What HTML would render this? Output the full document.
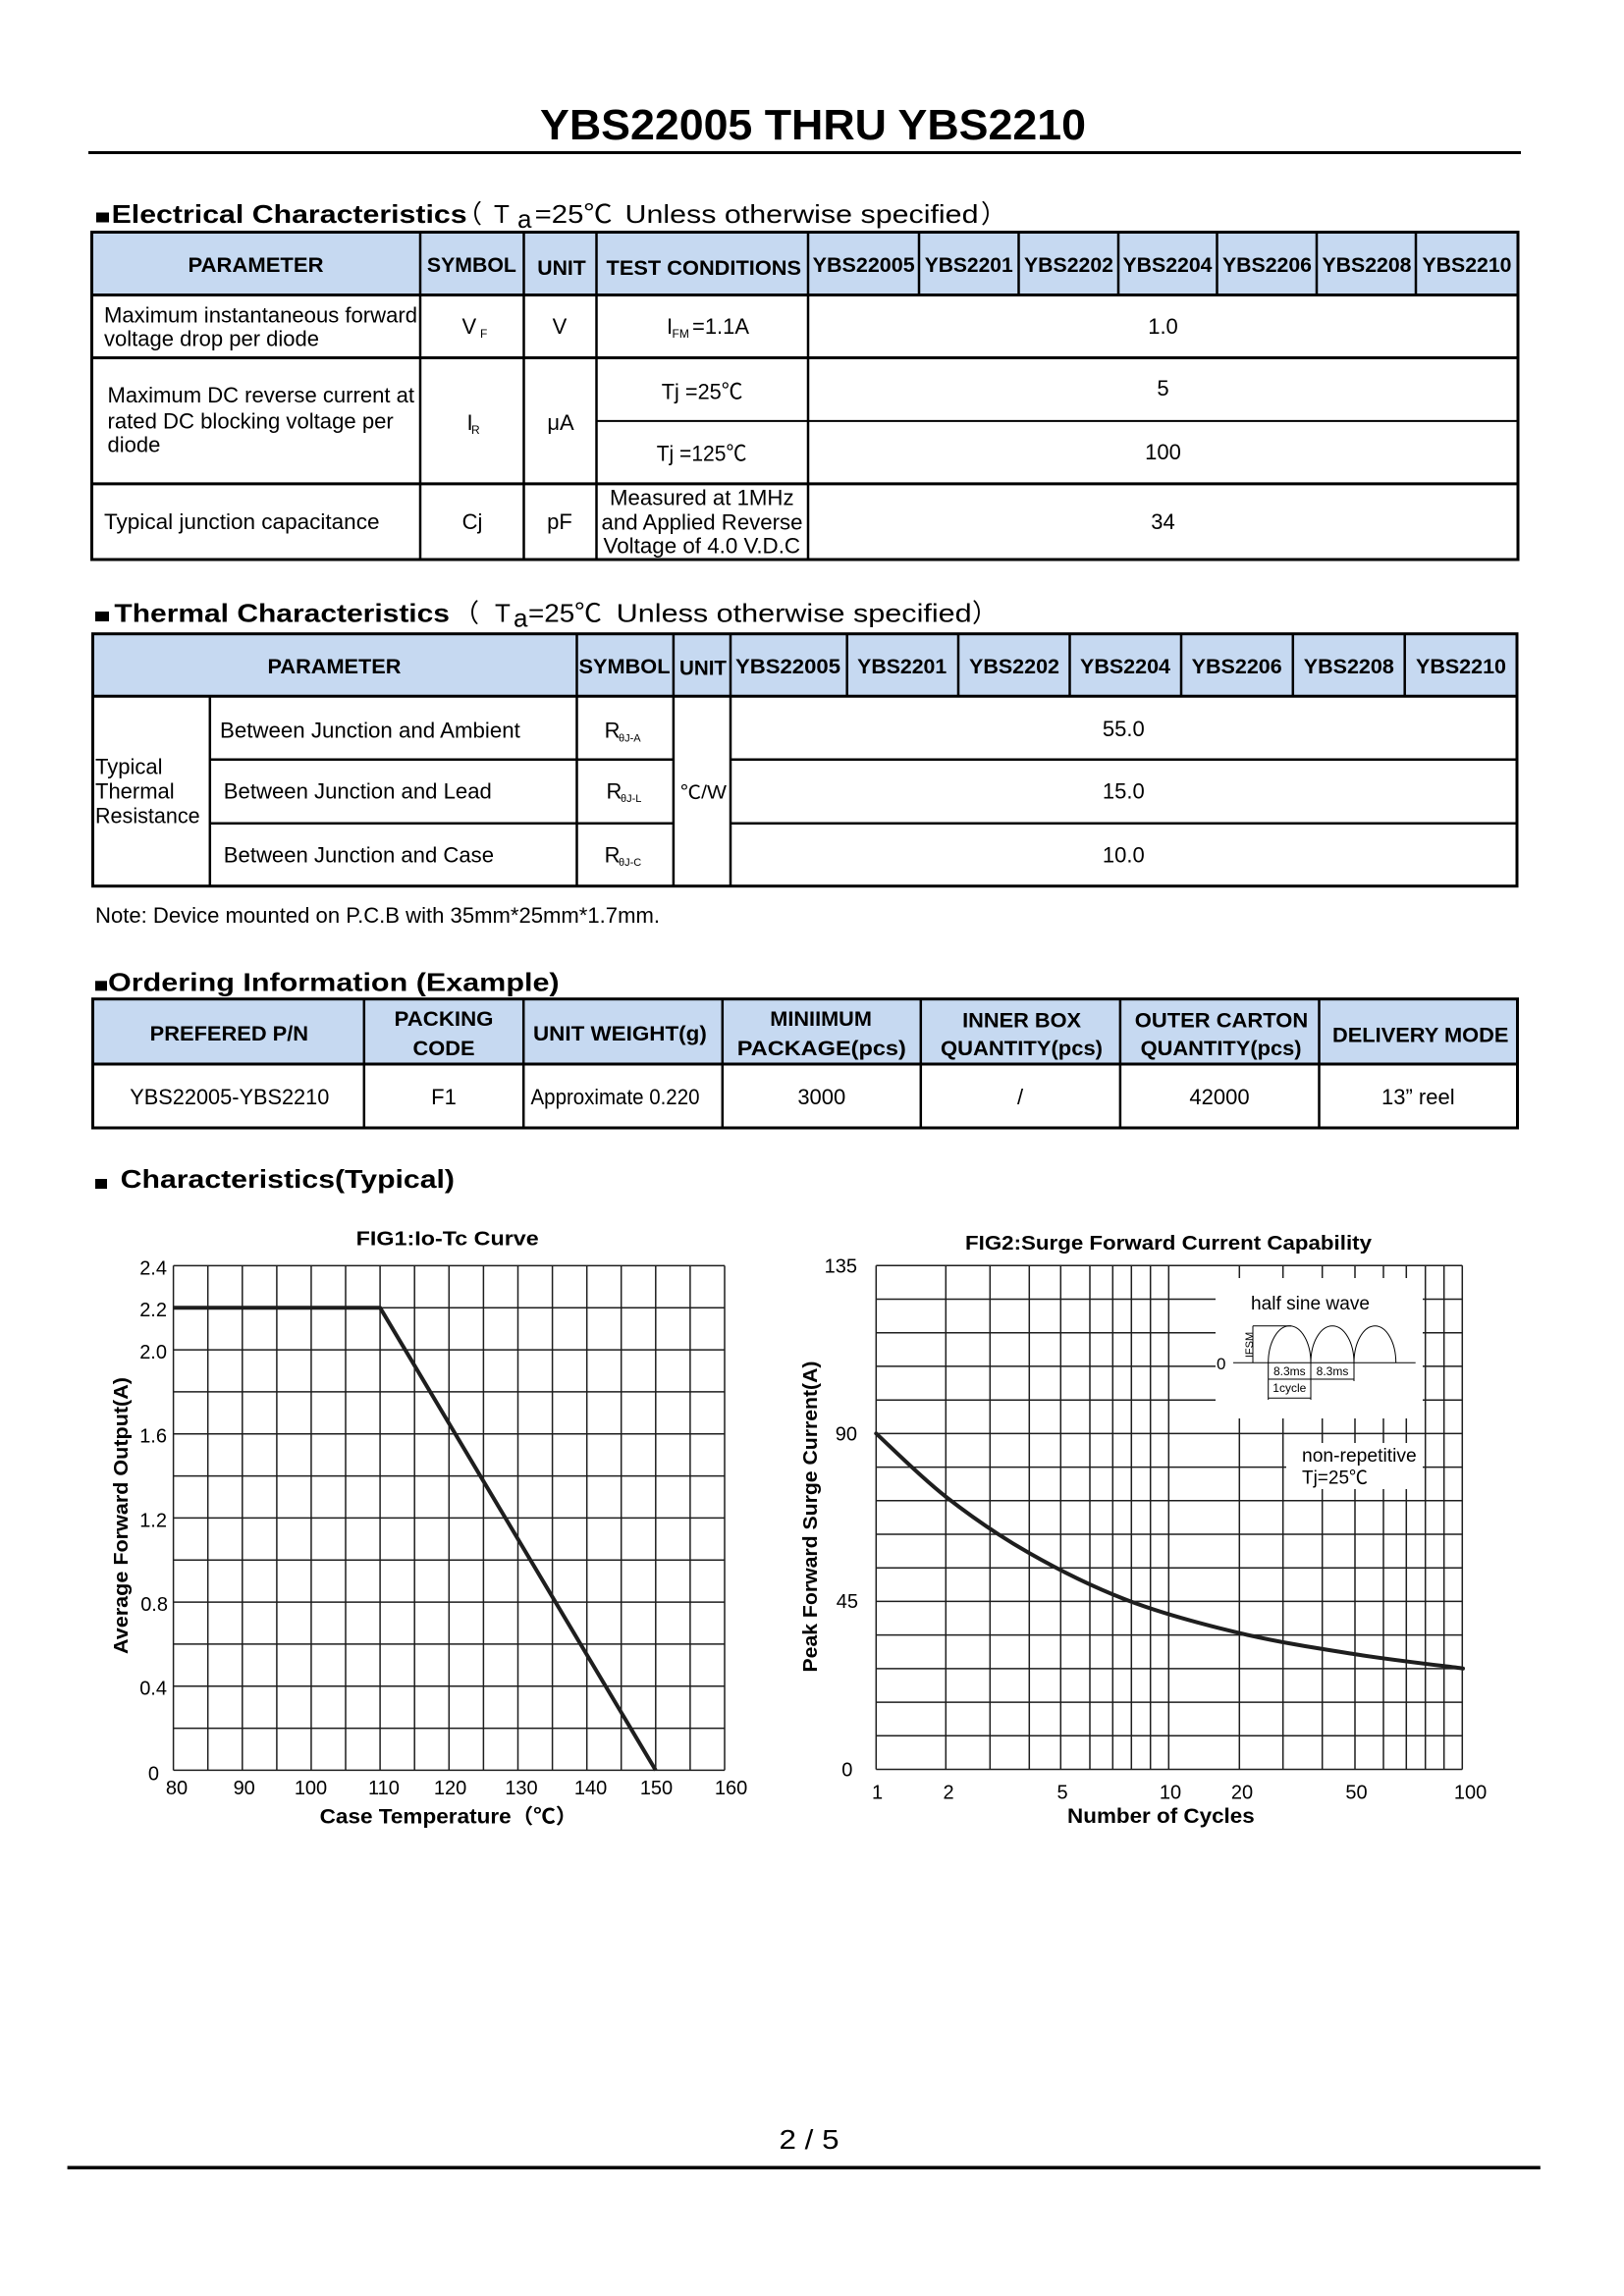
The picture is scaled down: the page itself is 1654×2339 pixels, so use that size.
<!DOCTYPE html>
<html><head><meta charset="utf-8"><style>
html,body{margin:0;padding:0;background:#fff;}
svg{display:block;}
text{font-family:"Liberation Sans","Noto Sans CJK SC",sans-serif;fill:#000;}
.b{font-weight:bold;}
</style></head><body>
<svg width="1654" height="2339" viewBox="0 0 1654 2339" xmlns="http://www.w3.org/2000/svg">
<rect x="0" y="0" width="1654" height="2339" fill="#fff"/>

<!-- Title -->
<text class="b" x="550" y="142" font-size="44" textLength="556" lengthAdjust="spacingAndGlyphs">YBS22005 THRU YBS2210</text>
<rect x="90" y="154" width="1459" height="3" fill="#000"/>

<!-- Electrical heading -->
<rect x="98" y="216.5" width="13" height="10" fill="#000"/>
<text class="b" x="113.6" y="227" font-size="26" textLength="362" lengthAdjust="spacingAndGlyphs">Electrical Characteristics</text>
<text x="465" y="227" font-size="26">（</text>
<text x="503" y="227" font-size="26">T</text>
<text x="527" y="232" font-size="26">a</text>
<text x="544.7" y="227" font-size="26" textLength="79" lengthAdjust="spacingAndGlyphs">=25℃</text>
<text x="636.5" y="227" font-size="26" textLength="360" lengthAdjust="spacingAndGlyphs">Unless otherwise specified</text>
<text x="999" y="227" font-size="26">）</text>

<!-- Table 1 -->
<rect x="93.5" y="236.5" width="1452.5" height="64" fill="#c6d9f1"/>
<g stroke="#000" fill="none">
<rect x="93.5" y="236.5" width="1452.5" height="333.5" stroke-width="3"/>
<path d="M93.5 300.5H1546M93.5 364.5H1546M93.5 492.9H1546" stroke-width="3"/>
<path d="M607.5 428.9H1546" stroke-width="2"/>
<path d="M428 236.5V570M533.5 236.5V570M607.5 236.5V570M823 236.5V570" stroke-width="2.5"/>
<path d="M936 236.5V300.5M1037.5 236.5V300.5M1139 236.5V300.5M1239.5 236.5V300.5M1341 236.5V300.5M1442 236.5V300.5" stroke-width="2.5"/>
</g>
<g class="b" font-size="21" text-anchor="middle" font-weight="bold">
<text x="260.5" y="277" textLength="138" lengthAdjust="spacingAndGlyphs">PARAMETER</text>
<text x="480.4" y="277" textLength="91" lengthAdjust="spacingAndGlyphs">SYMBOL</text>
<text x="572" y="280" textLength="49.5" lengthAdjust="spacingAndGlyphs">UNIT</text>
<text x="716.8" y="280" textLength="198.5" lengthAdjust="spacingAndGlyphs">TEST CONDITIONS</text>
<text x="879.7" y="277" textLength="104" lengthAdjust="spacingAndGlyphs">YBS22005</text>
<text x="986.7" y="277" textLength="90" lengthAdjust="spacingAndGlyphs">YBS2201</text>
<text x="1088.5" y="277" textLength="91" lengthAdjust="spacingAndGlyphs">YBS2202</text>
<text x="1189" y="277" textLength="91" lengthAdjust="spacingAndGlyphs">YBS2204</text>
<text x="1290.5" y="277" textLength="91" lengthAdjust="spacingAndGlyphs">YBS2206</text>
<text x="1392" y="277" textLength="91" lengthAdjust="spacingAndGlyphs">YBS2208</text>
<text x="1494" y="277" textLength="91" lengthAdjust="spacingAndGlyphs">YBS2210</text>
</g>
<g font-size="22">
<text x="106" y="328.7" textLength="319" lengthAdjust="spacingAndGlyphs">Maximum instantaneous forward</text>
<text x="106" y="352.6" textLength="219" lengthAdjust="spacingAndGlyphs">voltage drop per diode</text>
<text x="470.5" y="340">V</text><text x="489" y="344" font-size="12">F</text>
<text x="570" y="340" text-anchor="middle">V</text>
<text x="679" y="340">I</text><text x="684.5" y="344" font-size="12">FM</text><text x="705" y="340" textLength="58" lengthAdjust="spacingAndGlyphs">=1.1A</text>
<text x="1184.5" y="340" text-anchor="middle">1.0</text>

<text x="109.5" y="410" textLength="312.5" lengthAdjust="spacingAndGlyphs">Maximum DC reverse current at</text>
<text x="109.5" y="436.5" textLength="291.3" lengthAdjust="spacingAndGlyphs">rated DC blocking voltage per</text>
<text x="109.5" y="460.7">diode</text>
<text x="475.5" y="438">I</text><text x="480" y="442" font-size="12">R</text>
<text x="571" y="438" text-anchor="middle">μA</text>
<text x="673.8" y="406.6" textLength="82.6" lengthAdjust="spacingAndGlyphs">Tj =25℃</text>
<text x="668.7" y="469.6" textLength="91.8" lengthAdjust="spacingAndGlyphs">Tj =125℃</text>
<text x="1184.5" y="403" text-anchor="middle">5</text>
<text x="1184.5" y="468" text-anchor="middle">100</text>

<text x="106" y="539" textLength="280.5" lengthAdjust="spacingAndGlyphs">Typical junction capacitance</text>
<text x="481" y="539" text-anchor="middle">Cj</text>
<text x="570" y="539" text-anchor="middle">pF</text>
<text x="714.8" y="514.4" text-anchor="middle" textLength="187.5" lengthAdjust="spacingAndGlyphs">Measured at 1MHz</text>
<text x="715" y="539.3" text-anchor="middle" textLength="205" lengthAdjust="spacingAndGlyphs">and Applied Reverse</text>
<text x="714.8" y="563.5" text-anchor="middle" textLength="200.5" lengthAdjust="spacingAndGlyphs">Voltage of 4.0 V.D.C</text>
<text x="1184.5" y="539" text-anchor="middle">34</text>
</g>

<!-- Thermal heading -->
<rect x="97" y="623" width="14" height="10" fill="#000"/>
<text class="b" x="116.4" y="633.3" font-size="26" textLength="341.6" lengthAdjust="spacingAndGlyphs">Thermal Characteristics</text>
<text x="462" y="633.3" font-size="26">（</text>
<text x="504" y="633.3" font-size="26">T</text>
<text x="523" y="638.3" font-size="26">a</text>
<text x="538" y="633.3" font-size="26" textLength="75" lengthAdjust="spacingAndGlyphs">=25℃</text>
<text x="627.7" y="633.3" font-size="26" textLength="362" lengthAdjust="spacingAndGlyphs">Unless otherwise specified</text>
<text x="990" y="633.3" font-size="26">）</text>

<!-- Table 2 -->
<rect x="94.5" y="645.7" width="1450.5" height="63.6" fill="#c6d9f1"/>
<g stroke="#000" fill="none">
<rect x="94.5" y="645.7" width="1450.5" height="257" stroke-width="3"/>
<path d="M94.5 709.3H1545" stroke-width="3"/>
<path d="M213.8 773.7H685.9M744 773.7H1545M213.8 838.7H685.9M744 838.7H1545" stroke-width="2.5"/>
<path d="M213.8 709.3V902.7M587.5 645.7V902.7M685.9 645.7V902.7M744 645.7V902.7" stroke-width="2.5"/>
<path d="M862.7 645.7V709.3M976 645.7V709.3M1089.5 645.7V709.3M1203 645.7V709.3M1316.8 645.7V709.3M1430.7 645.7V709.3" stroke-width="2.5"/>
</g>
<g font-size="21" text-anchor="middle" font-weight="bold">
<text x="340.5" y="686" textLength="136" lengthAdjust="spacingAndGlyphs">PARAMETER</text>
<text x="636" y="686" textLength="93" lengthAdjust="spacingAndGlyphs">SYMBOL</text>
<text x="716" y="687.3" textLength="48" lengthAdjust="spacingAndGlyphs">UNIT</text>
<text x="802.5" y="686" textLength="107" lengthAdjust="spacingAndGlyphs">YBS22005</text>
<text x="918.7" y="686" textLength="91" lengthAdjust="spacingAndGlyphs">YBS2201</text>
<text x="1033" y="686" textLength="92" lengthAdjust="spacingAndGlyphs">YBS2202</text>
<text x="1146" y="686" textLength="92" lengthAdjust="spacingAndGlyphs">YBS2204</text>
<text x="1259.7" y="686" textLength="92" lengthAdjust="spacingAndGlyphs">YBS2206</text>
<text x="1373.8" y="686" textLength="92" lengthAdjust="spacingAndGlyphs">YBS2208</text>
<text x="1488" y="686" textLength="92" lengthAdjust="spacingAndGlyphs">YBS2210</text>
</g>
<g font-size="22">
<text x="97" y="788.3">Typical</text>
<text x="97" y="813.3">Thermal</text>
<text x="97" y="838.3" textLength="106.6" lengthAdjust="spacingAndGlyphs">Resistance</text>
<text x="224" y="751.7" textLength="305.8" lengthAdjust="spacingAndGlyphs">Between Junction and Ambient</text>
<text x="227.8" y="813.3" textLength="273" lengthAdjust="spacingAndGlyphs">Between Junction and Lead</text>
<text x="227.8" y="878.3" textLength="275.2" lengthAdjust="spacingAndGlyphs">Between Junction and Case</text>
<text x="615.6" y="751.7">R</text><text x="630" y="755.5" font-size="11">θJ-A</text>
<text x="617.5" y="813.3">R</text><text x="632" y="817.1" font-size="11">θJ-L</text>
<text x="615.6" y="878.3">R</text><text x="630" y="882.1" font-size="11">θJ-C</text>
<text x="693" y="813.3" font-size="19" textLength="47" lengthAdjust="spacingAndGlyphs">℃/W</text>
<text x="1144.3" y="750" text-anchor="middle">55.0</text>
<text x="1144.3" y="813.3" text-anchor="middle">15.0</text>
<text x="1144.3" y="878.3" text-anchor="middle">10.0</text>
<text x="97" y="940" textLength="575" lengthAdjust="spacingAndGlyphs">Note: Device mounted on P.C.B with 35mm*25mm*1.7mm.</text>
</g>

<!-- Ordering heading -->
<rect x="97" y="999.3" width="12" height="10" fill="#000"/>
<text class="b" x="110" y="1009.3" font-size="26" textLength="459.6" lengthAdjust="spacingAndGlyphs">Ordering Information (Example)</text>

<!-- Table 3 -->
<rect x="94.5" y="1017.7" width="1451" height="66.3" fill="#c6d9f1"/>
<g stroke="#000" fill="none">
<rect x="94.5" y="1017.7" width="1451" height="131.3" stroke-width="3"/>
<path d="M94.5 1084H1545.5" stroke-width="3"/>
<path d="M370.8 1017.7V1149M533.2 1017.7V1149M735.8 1017.7V1149M937.8 1017.7V1149M1140.9 1017.7V1149M1343.5 1017.7V1149" stroke-width="2.5"/>
</g>
<g font-size="21" text-anchor="middle" font-weight="bold">
<text x="233.4" y="1060" textLength="161.4" lengthAdjust="spacingAndGlyphs">PREFERED P/N</text>
<text x="452" y="1045" textLength="101" lengthAdjust="spacingAndGlyphs">PACKING</text>
<text x="452" y="1075" textLength="63" lengthAdjust="spacingAndGlyphs">CODE</text>
<text x="631.4" y="1060" textLength="176.8" lengthAdjust="spacingAndGlyphs">UNIT WEIGHT(g)</text>
<text x="836.1" y="1045" textLength="103.6" lengthAdjust="spacingAndGlyphs">MINIIMUM</text>
<text x="836.8" y="1075" textLength="172" lengthAdjust="spacingAndGlyphs">PACKAGE(pcs)</text>
<text x="1040.6" y="1046.7" textLength="121" lengthAdjust="spacingAndGlyphs">INNER BOX</text>
<text x="1040.5" y="1075" textLength="165" lengthAdjust="spacingAndGlyphs">QUANTITY(pcs)</text>
<text x="1244" y="1046.7" textLength="176.4" lengthAdjust="spacingAndGlyphs">OUTER CARTON</text>
<text x="1243.6" y="1075" textLength="164" lengthAdjust="spacingAndGlyphs">QUANTITY(pcs)</text>
<text x="1446.7" y="1061.7" textLength="179.4" lengthAdjust="spacingAndGlyphs">DELIVERY MODE</text>
</g>
<g font-size="22" text-anchor="middle">
<text x="233.8" y="1125" textLength="203" lengthAdjust="spacingAndGlyphs">YBS22005-YBS2210</text>
<text x="452" y="1125">F1</text>
<text x="626.5" y="1125" textLength="172" lengthAdjust="spacingAndGlyphs">Approximate 0.220</text>
<text x="836.8" y="1125">3000</text>
<text x="1039" y="1125">/</text>
<text x="1242" y="1125">42000</text>
<text x="1444.3" y="1125">13” reel</text>
</g>

<!-- Characteristics heading -->
<rect x="97" y="1201" width="12" height="10" fill="#000"/>
<text class="b" x="122.7" y="1210" font-size="26" textLength="340.3" lengthAdjust="spacingAndGlyphs">Characteristics(Typical)</text>

<!-- FIG1 -->
<text class="b" x="455.7" y="1268.7" font-size="20" text-anchor="middle" textLength="186" lengthAdjust="spacingAndGlyphs">FIG1:Io-Tc Curve</text>
<g stroke="#1e1e1e" stroke-width="1.5" fill="none">
<path d="M176.6 1289.4V1803.4M211.7 1289.4V1803.4M246.8 1289.4V1803.4M281.9 1289.4V1803.4M316.95 1289.4V1803.4M352 1289.4V1803.4M387.1 1289.4V1803.4M422.2 1289.4V1803.4M457.3 1289.4V1803.4M492.4 1289.4V1803.4M527.5 1289.4V1803.4M562.6 1289.4V1803.4M597.7 1289.4V1803.4M632.7 1289.4V1803.4M667.8 1289.4V1803.4M702.9 1289.4V1803.4M738 1289.4V1803.4"/>
<path d="M176.6 1289.4H738M176.6 1332.2H738M176.6 1375.1H738M176.6 1417.9H738M176.6 1460.7H738M176.6 1503.6H738M176.6 1546.4H738M176.6 1589.2H738M176.6 1632.1H738M176.6 1674.9H738M176.6 1717.7H738M176.6 1760.6H738M176.6 1803.4H738"/>
</g>
<polyline points="176.6,1332.2 387.1,1332.2 667.8,1803.4" fill="none" stroke="#1e1e1e" stroke-width="4" stroke-linejoin="round"/>
<g font-size="20" text-anchor="end">
<text x="170" y="1298.4">2.4</text>
<text x="170" y="1341.2">2.2</text>
<text x="170" y="1384.1">2.0</text>
<text x="170" y="1469.7">1.6</text>
<text x="170" y="1555.4">1.2</text>
<text x="171" y="1641.1">0.8</text>
<text x="170" y="1726.7">0.4</text>
<text x="162" y="1813.5">0</text>
</g>
<g font-size="20" text-anchor="middle">
<text x="180" y="1828">80</text>
<text x="248.7" y="1828">90</text>
<text x="316.5" y="1828">100</text>
<text x="391" y="1828">110</text>
<text x="458.6" y="1828">120</text>
<text x="531" y="1828">130</text>
<text x="601.6" y="1828">140</text>
<text x="668.5" y="1828">150</text>
<text x="744.6" y="1828">160</text>
</g>
<text class="b" x="457" y="1857.6" font-size="21" text-anchor="middle" textLength="262.7" lengthAdjust="spacingAndGlyphs">Case Temperature（℃）</text>
<text class="b" x="123" y="1544" font-size="20" text-anchor="middle" transform="rotate(-90 123 1544)" dy="7" textLength="282" lengthAdjust="spacingAndGlyphs">Average Forward Output(A)</text>

<!-- FIG2 -->
<text class="b" x="1190" y="1272.8" font-size="20" text-anchor="middle" textLength="414" lengthAdjust="spacingAndGlyphs">FIG2:Surge Forward Current Capability</text>
<g stroke="#1e1e1e" stroke-width="1.5" fill="none">
<path d="M892.3 1289.3V1802.5M963.3 1289.3V1802.5M1008.3 1289.3V1802.5M1048.3 1289.3V1802.5M1080.3 1289.3V1802.5M1110 1289.3V1802.5M1133.3 1289.3V1802.5M1152.3 1289.3V1802.5M1171.7 1289.3V1802.5M1190.3 1289.3V1802.5M1262.3 1289.3V1802.5M1306.7 1289.3V1802.5M1346.7 1289.3V1802.5M1380 1289.3V1802.5M1409 1289.3V1802.5M1432.3 1289.3V1802.5M1451.7 1289.3V1802.5M1470.7 1289.3V1802.5M1489.3 1289.3V1802.5"/>
<path d="M892.3 1289.3H1489.3M892.3 1323.5H1489.3M892.3 1357.7H1489.3M892.3 1391.9H1489.3M892.3 1426.2H1489.3M892.3 1460.4H1489.3M892.3 1494.6H1489.3M892.3 1528.8H1489.3M892.3 1563H1489.3M892.3 1597.2H1489.3M892.3 1631.4H1489.3M892.3 1665.6H1489.3M892.3 1699.9H1489.3M892.3 1734.1H1489.3M892.3 1768.3H1489.3M892.3 1802.5H1489.3"/>
</g>
<rect x="1238" y="1302" width="211" height="143" fill="#fff"/>
<rect x="1310" y="1470" width="139" height="47" fill="#fff"/>
<!-- inset -->
<text x="1274" y="1334" font-size="19" textLength="121" lengthAdjust="spacingAndGlyphs">half sine wave</text>
<text x="1239" y="1395" font-size="17">0</text>
<g stroke="#000" stroke-width="1" fill="none">
<path d="M1256 1388.3H1441.7"/>
<path d="M1276 1350.7V1388.3M1276 1350.7H1315"/>
<path d="M1291.7 1388.3A21.65 37.6 0 0 1 1335 1388.3A22 37.6 0 0 1 1379 1388.3A21.35 37.6 0 0 1 1421.7 1388.3"/>
<path d="M1291.7 1388.3V1426M1335 1388.3V1426M1379 1388.3V1407"/>
<path d="M1291.7 1405H1379M1291.7 1424.3H1335"/>
</g>
<text x="1272" y="1370" font-size="11" text-anchor="middle" transform="rotate(-90 1272 1370)" dy="4">IFSM</text>
<text x="1313.3" y="1401" font-size="12" text-anchor="middle">8.3ms</text>
<text x="1357" y="1401" font-size="12" text-anchor="middle">8.3ms</text>
<text x="1313.3" y="1418" font-size="12" text-anchor="middle">1cycle</text>
<text x="1326" y="1489" font-size="19" textLength="116.7" lengthAdjust="spacingAndGlyphs">non-repetitive</text>
<text x="1326" y="1511.7" font-size="19" textLength="67" lengthAdjust="spacingAndGlyphs">Tj=25℃</text>
<path d="M892.3 1460.3C904.1 1471 937.05 1504.2 963 1524.5C988.95 1544.8 1017 1564.3 1048 1582C1079 1599.7 1113.2 1616.9 1149 1630.5C1184.8 1644.1 1224.3 1654.6 1262.6 1663.7C1300.9 1672.8 1340.8 1679 1378.7 1685C1416.6 1691 1471.45 1697.25 1490 1699.7" fill="none" stroke="#1e1e1e" stroke-width="4" stroke-linecap="round"/>
<g font-size="20" text-anchor="end">
<text x="873" y="1296.5">135</text>
<text x="873" y="1467.6">90</text>
<text x="874" y="1637.8">45</text>
<text x="868.4" y="1809.5">0</text>
</g>
<g font-size="20" text-anchor="middle">
<text x="893.5" y="1832.4">1</text>
<text x="966" y="1832.4">2</text>
<text x="1082" y="1832.4">5</text>
<text x="1192" y="1832.4">10</text>
<text x="1265" y="1832.4">20</text>
<text x="1381.5" y="1832.4">50</text>
<text x="1497.6" y="1832.4">100</text>
</g>
<text class="b" x="1182.4" y="1857.2" font-size="21" text-anchor="middle" textLength="190.7" lengthAdjust="spacingAndGlyphs">Number of Cycles</text>
<text class="b" x="825" y="1545" font-size="20" text-anchor="middle" transform="rotate(-90 825 1545)" dy="7" textLength="317" lengthAdjust="spacingAndGlyphs">Peak Forward Surge Current(A)</text>

<!-- Footer -->
<text x="824" y="2189" font-size="28" text-anchor="middle" textLength="61" lengthAdjust="spacingAndGlyphs">2 / 5</text>
<rect x="68.6" y="2206.5" width="1500.2" height="3.5" fill="#000"/>
</svg>
</body></html>
